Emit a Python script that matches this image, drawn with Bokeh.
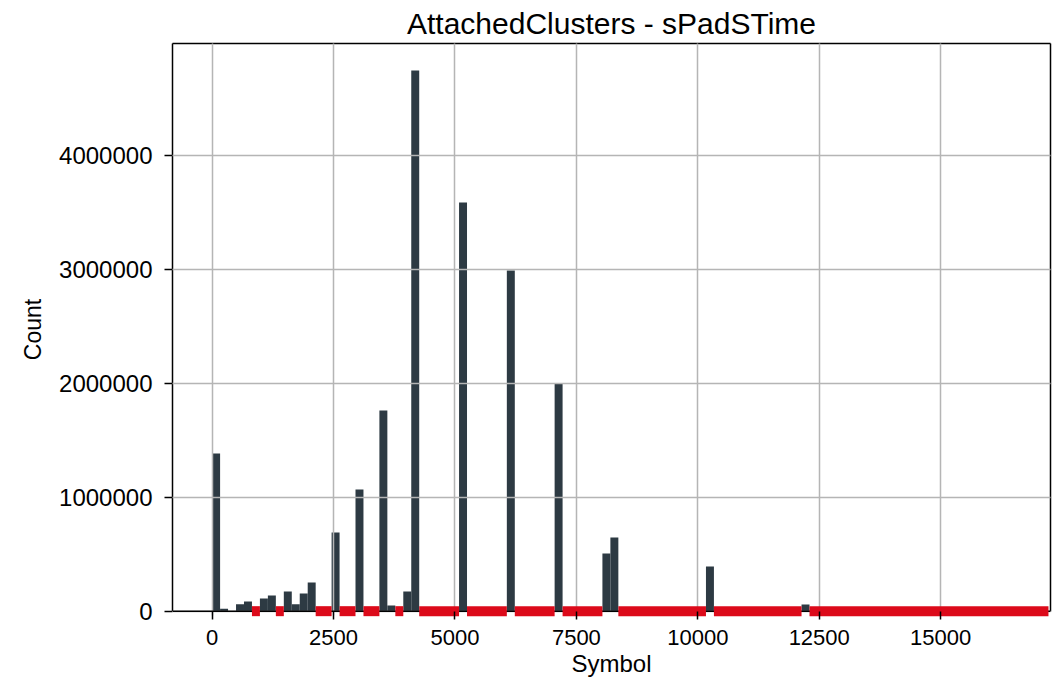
from bokeh.plotting import figure
from bokeh.models import (SingleIntervalTicker, BasicTickFormatter, Range1d, FixedTicker,
                          ColumnDataSource, LinearAxis, Span)
from bokeh.embed import file_html
from bokeh.resources import INLINE

# ---- data ----
bin_width = 164
counts = [
    1385000, 21000, 2000, 61000, 85000, 0, 111000, 138000, 0, 173000,      # 0-9
    61000, 155000, 252000, 0, 0, 691000, 0, 0, 1068000, 0,                # 10-19
    0, 1762000, 50000, 0, 173000, 4747000, 0, 0, 0, 0,                    # 20-29
    0, 3588000, 0, 0, 0, 0, 0, 2991000, 0, 0,                             # 30-39
    0, 0, 0, 1999000, 0, 0, 0, 0, 0, 507000,                              # 40-49
    647000, 0, 0, 0, 0, 0, 0, 0, 0, 0,                                    # 50-59
    0, 0, 392000, 0, 0, 0, 0, 0, 0, 0,                                    # 60-69
    0, 0, 0, 0, 59000, 0, 0, 0, 0, 0,                                     # 70-79
    0, 0, 0, 0, 0, 0, 0, 0, 0, 0,                                         # 80-89
    0, 0, 0, 0, 0, 0, 0, 0, 0, 0,                                         # 90-99
    0, 0, 0, 0, 0,                                                        # 100-104
]
x_tick_interval = 2500
y_tick_interval = 1000000
title = "AttachedClusters - sPadSTime"
x_label = "Symbol"
y_label = "Count"

# ---- derived ----
lefts = [i * bin_width for i in range(len(counts))]
rights = [l + bin_width for l in lefts]
bars = ColumnDataSource(dict(
    left=[l for l, c in zip(lefts, counts) if c > 0],
    right=[r for r, c in zip(rights, counts) if c > 0],
    top=[c for c in counts if c > 0],
))

# runs of empty bins -> red markers on the baseline
z0, z1 = [], []
i = 0
while i < len(counts):
    if counts[i] == 0:
        j = i
        while j + 1 < len(counts) and counts[j + 1] == 0:
            j += 1
        z0.append(lefts[i])
        z1.append(rights[j])
        i = j + 1
    else:
        i += 1
zeros = ColumnDataSource(dict(x0=z0, x1=z1, y=[0] * len(z0)))

FONT = "Liberation Sans"
y_top = 1.05 * max(counts)
y_below = 38000  # small room under the baseline so the red markers are not cut

p = figure(width=1057, height=680, output_backend="svg", toolbar_location=None,
           x_range=Range1d(-816, 17262), y_range=Range1d(-y_below, y_top),
           min_border_left=172, min_border_right=7, min_border_top=43, min_border_bottom=65)

p.quad(left="left", right="right", bottom=0, top="top", source=bars,
       fill_color="#2d3a43", line_color=None)
seg = p.segment(x0="x0", y0="y", x1="x1", y1="y", source=zeros,
                line_color="#dc0a1a", line_width=10, line_cap="butt")
seg.level = "overlay"

# baseline (x axis line at y = 0)
p.add_layout(Span(location=0, dimension="width", line_color="black", line_width=1.5))

p.title.text = title
p.title.align = "center"
p.title.text_font = FONT
p.title.text_font_size = "30px"
p.title.text_font_style = "normal"
p.title.text_color = "black"
p.title.standoff = 8

p.xaxis.ticker = SingleIntervalTicker(interval=x_tick_interval)
p.yaxis.ticker = SingleIntervalTicker(interval=y_tick_interval)
p.yaxis.formatter = BasicTickFormatter(use_scientific=False)
p.xaxis.axis_label = x_label
p.yaxis.axis_label = y_label

for ax in (p.xaxis, p.yaxis):
    ax.major_label_text_font = FONT
    ax.major_label_text_color = "black"
    ax.axis_label_text_font = FONT
    ax.axis_label_text_font_style = "normal"
    ax.axis_label_text_color = "black"
    ax.axis_line_color = "black"
    ax.axis_line_width = 1.5
    ax.major_tick_line_color = "black"
    ax.major_tick_line_width = 1.5
    ax.minor_tick_line_color = None

p.xaxis.major_label_text_font_size = "22px"
p.yaxis.major_label_text_font_size = "24px"
p.xaxis.axis_label_text_font_size = "24px"
p.yaxis.axis_label_text_font_size = "23px"
p.xaxis.axis_line_color = None
p.xaxis.major_tick_in = 4
p.xaxis.major_tick_out = 4
p.xaxis.major_label_standoff = 10
p.xaxis.axis_label_standoff = 2
p.xaxis.level = "overlay"
p.yaxis.major_tick_in = 0
p.yaxis.major_tick_out = 8
p.yaxis.major_label_standoff = 12
p.yaxis.axis_label_standoff = 10
p.yaxis.bounds = (0, y_top)

# top and right frame edges (lines only, no ticks, no labels)
frame_kw = dict(axis_line_color="black", axis_line_width=1.5, ticker=FixedTicker(ticks=[]),
                major_tick_line_color=None, minor_tick_line_color=None,
                major_tick_in=0, major_tick_out=0, minor_tick_in=0, minor_tick_out=0,
                major_label_standoff=0, axis_label_standoff=0)
top_ax = LinearAxis(**frame_kw)
right_ax = LinearAxis(bounds=(0, y_top), **frame_kw)
p.add_layout(top_ax, "above")
p.add_layout(right_ax, "right")

p.grid.grid_line_color = "#b5b5b5"
p.grid.grid_line_width = 1.5
p.grid.level = "annotation"
p.xgrid.ticker = SingleIntervalTicker(interval=x_tick_interval)
p.ygrid.ticker = SingleIntervalTicker(interval=y_tick_interval)

p.outline_line_color = None
p.background_fill_color = "white"
p.border_fill_color = "white"

open("out.html", "w").write(file_html(p, INLINE))
